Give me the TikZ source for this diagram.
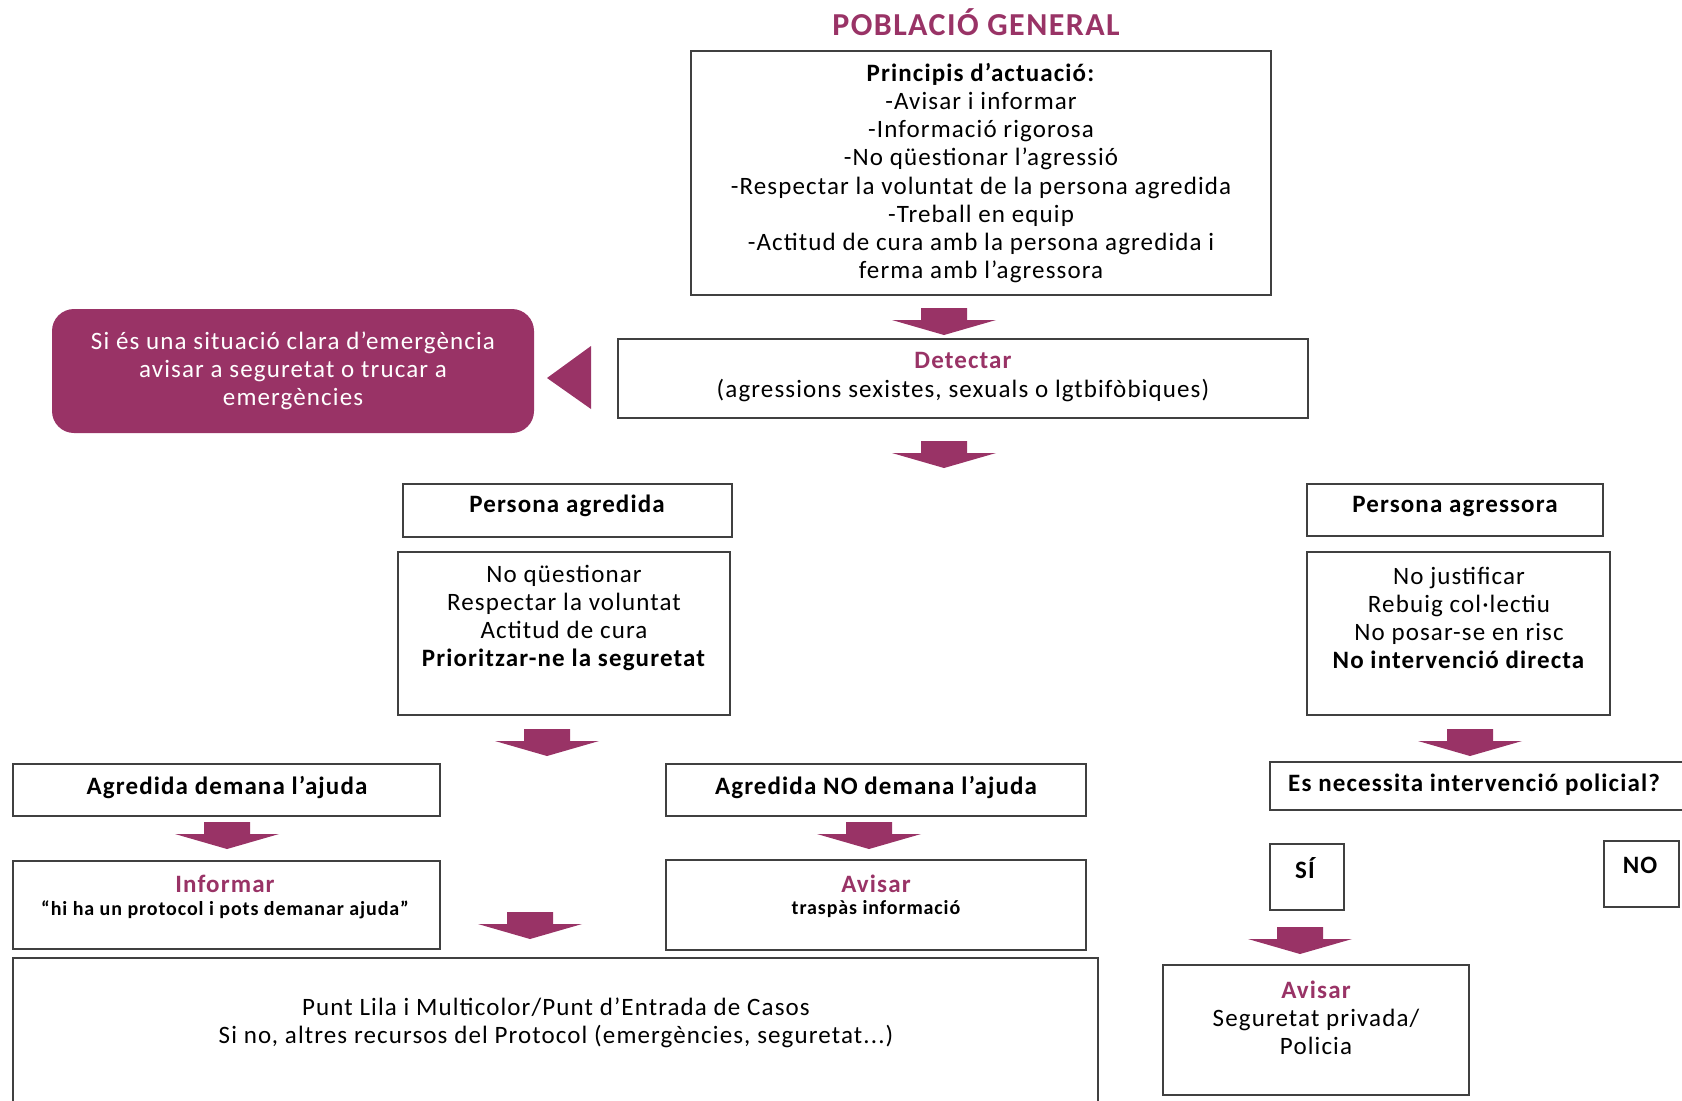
\documentclass[tikz,border=0pt]{standalone}
\usepackage{fontspec}
\setmainfont{Carlito}[LetterSpace=4.5]
\usetikzlibrary{fit}

\definecolor{lila}{RGB}{153,51,102}
\definecolor{vora}{RGB}{64,64,64}

\tikzset{
  caixa/.style={draw=vora, line width=0.9pt, inner sep=0pt},
  lletra/.style={align=center, inner sep=0pt, font=\fontsize{12.5}{14.1}\selectfont},
  negreta/.style={lletra, font=\fontsize{12.5}{14.1}\selectfont\bfseries},
  petita/.style={align=center, inner sep=0pt, font=\fontsize{10}{13}\selectfont\bfseries},
  fletxa/.pic={
    \fill[lila] (-23,0) -- (23,0) -- (23,12) -- (52,12) -- (0,27)
      -- (-52,12) -- (-23,12) -- cycle;
  }
}

\begin{document}
\begin{tikzpicture}[x=0.5pt, y=-0.5pt]
    \useasboundingbox (0,0) rectangle (1682,1100);
    \clip (0,0) rectangle (1682,1100);

    % Títol
    \node[font=\fontsize{16}{18}\selectfont\bfseries, text=lila] (titol) at (976,22) {POBLACIÓ GENERAL};

    % Principis d'actuació
    \node[caixa, fit={(691,51) (1271,295)}] (principis) {};
    \node[lletra] (principistext) at (principis.center) {\textbf{Principis d’actuació:}\\
        -Avisar i informar\\ -Informació rigorosa\\ -No qüestionar l’agressió\\
        -Respectar la voluntat de la persona agredida\\ -Treball en equip\\
        -Actitud de cura amb la persona agredida i\\ ferma amb l’agressora};
    \pic at (944,308) {fletxa};

    % Detectar i emergència
    \node[caixa, fit={(618,339) (1308,418)}] (detectar) {};
    \node[lletra] (detectartext) at (963,377) {\textbf{\textcolor{lila}{Detectar}}\\
        (agressions sexistes, sexuals o lgtbifòbiques)};
    \node[fill=lila, rounded corners=11pt, inner sep=0pt, fit={(52,309) (534,433)}] (emergencia) {};
    \node[lletra, text=white] (emergenciatext) at (emergencia.center) {Si és una situació clara d’emergència\\
        avisar a seguretat o trucar a\\ emergències};
    \fill[lila] (547,378) -- (591,346) -- (591,409) -- cycle;
    \pic at (944,441) {fletxa};

    % Persona agredida
    \node[caixa, fit={(403,484) (732,537)}] (agredida) {};
    \node[negreta] at (567,506) {Persona agredida};
    \node[caixa, fit={(398,552) (730,715)}] (llistaagredida) {};
    \node[lletra] at (564,618) {No qüestionar\\ Respectar la voluntat\\ Actitud de cura\\
        \textbf{Prioritzar-ne la seguretat}};
    \pic at (547,729) {fletxa};

    % Persona agressora
    \node[caixa, fit={(1307,484) (1603,536)}] (agressora) {};
    \node[negreta] at (1455,506) {Persona agressora};
    \node[caixa, fit={(1307,552) (1610,715)}] (llistaagressora) {};
    \node[lletra] at (1459,618) {No justificar\\ Rebuig col·lectiu\\ No posar-se en risc\\
        \textbf{No intervenció directa}};
    \pic at (1470,729) {fletxa};

    % Demana o no l'ajuda
    \node[caixa, fit={(13,764) (440,816)}] (demana) {};
    \node[negreta] at (227,788) {Agredida demana l’ajuda};
    \node[caixa, fit={(666,764) (1086,816)}] (nodemana) {};
    \node[negreta] at (876,788) {Agredida NO demana l’ajuda};
    \pic at (227,822) {fletxa};
    \pic at (869,822) {fletxa};

    \node[caixa, fit={(13,861) (440,949)}] (informar) {};
    \node[negreta, text=lila] at (225,884) {Informar};
    \node[petita] at (225,910) {“hi ha un protocol i pots demanar ajuda”};
    \node[caixa, fit={(666,860) (1086,950)}] (avisar) {};
    \node[negreta, text=lila] at (876,884) {Avisar};
    \node[petita] at (876,909) {traspàs informació};
    \pic at (530,912) {fletxa};

    \node[caixa, fit={(13,958) (1098,1120)}] (puntlila) {};
    \node[lletra] at (556,1023) {Punt Lila i Multicolor/Punt d’Entrada de Casos\\
        Si no, altres recursos del Protocol (emergències, seguretat...)};

    % Intervenció policial
    \node[caixa, fit={(1270,762) (1700,810)}] (policial) {};
    \node[negreta] at (1474,785) {Es necessita intervenció policial?};
    \node[caixa, fit={(1270,844) (1344,910)}] (si) {};
    \node[negreta] at (1305,868) {SÍ};
    \node[caixa, fit={(1604,841) (1679,907)}] (no) {};
    \node[negreta] at (1640,865) {NO};
    \pic at (1300,927) {fletxa};
    \node[caixa, fit={(1163,965) (1469,1095)}] (avisarpolicia) {};
    \node[lletra] at (1316,1018) {\textbf{\textcolor{lila}{Avisar}}\\ Seguretat privada/\\ Policia};
\end{tikzpicture}
\end{document}
